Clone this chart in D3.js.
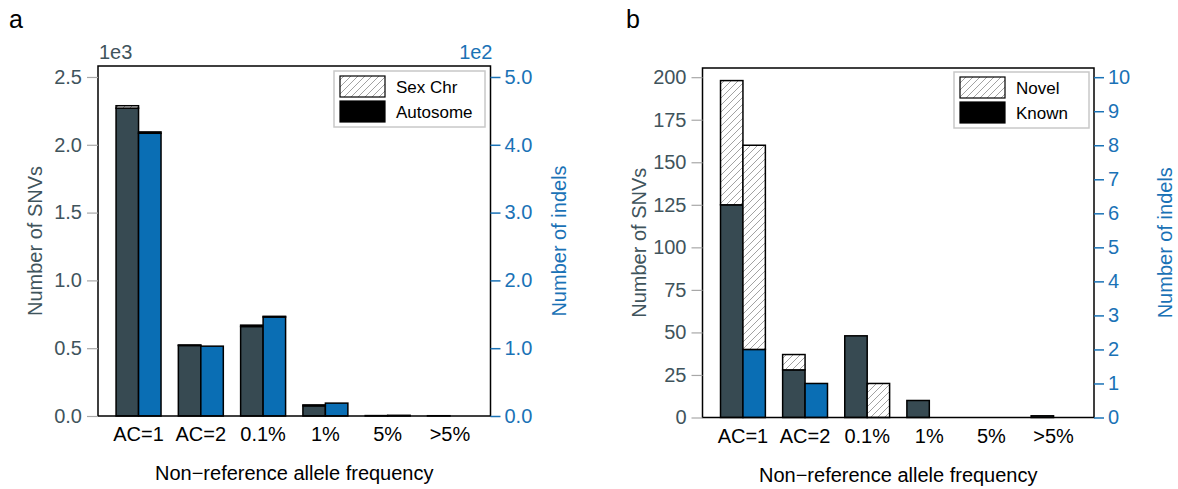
<!DOCTYPE html>
<html>
<head>
<meta charset="utf-8">
<script src="https://cdn.jsdelivr.net/npm/d3@7"></script>
<style>
  html, body { margin: 0; padding: 0; background: #fff; }
  svg { display: block; font-family: "Liberation Sans", Arial, Helvetica, sans-serif; }
</style>
</head>
<body>
<svg id="chart" width="1178" height="489"></svg>
<script>
// ---------- DATA ----------
const categories = ["AC=1", "AC=2", "0.1%", "1%", "5%", ">5%"];

// Panel a: counts
const aSnvAutosome  = [2270, 520, 660, 75, 3, 2];
const aSnvSexChr    = [18,   4,   10,  7,  0, 0];
const aIndelAutosome = [417, 103, 146, 19, 1, 0];
const aIndelSexChr   = [2,   0,   1,   0,  0, 0];

// Panel b: counts
const bSnvKnown   = [125, 28, 48, 10, 0, 1];
const bSnvNovel   = [73,  9,  0,  0,  0, 0];
const bIndelKnown = [2, 1, 0, 0, 0, 0];
const bIndelNovel = [6, 0, 1, 0, 0, 0];

const aLeftTicks  = [0, 500, 1000, 1500, 2000, 2500];
const aRightTicks = [0, 100, 200, 300, 400, 500];
const bLeftTicks  = [0, 25, 50, 75, 100, 125, 150, 175, 200];
const bRightTicks = [0, 1, 2, 3, 4, 5, 6, 7, 8, 9, 10];

const aLegend = ["Sex Chr", "Autosome"];
const bLegend = ["Novel", "Known"];

// ---------- STYLE ----------
const SNV_COLOR = "#374a52";
const INDEL_COLOR = "#0a6eb4";
const LEFT_TEXT = "#3f545c";
const RIGHT_TEXT = "#1a72b6";
const FS = "20px";

const svg = d3.select("#chart");
const defs = svg.append("defs");
const pat = defs.append("pattern")
  .attr("id", "hatch")
  .attr("patternUnits", "userSpaceOnUse")
  .attr("width", 7).attr("height", 7);
pat.append("rect").attr("width", 7).attr("height", 7).attr("fill", "#fff");
pat.append("path")
  .attr("d", "M-1,8 L8,-1 M-4,4 L4,-4 M3,11 L11,3")
  .attr("stroke", "#8a8a8a").attr("stroke-width", 0.8);

function panel(cfg) {
  const g = svg.append("g");
  const { x0, x1, y0, y1 } = cfg;

  const x = d3.scaleBand().domain(categories).range([x0, x1])
    .paddingInner(0.278).paddingOuter(0.29);
  const yL = d3.scaleLinear().domain([0, cfg.leftMax]).range([y1, y0]);
  const yR = d3.scaleLinear().domain([0, cfg.rightMax]).range([y1, y0]);
  const bw = x.bandwidth() / 2;

  const series = [
    { base: cfg.snvBase, top: cfg.snvTop, y: yL, color: SNV_COLOR, off: 0 },
    { base: cfg.indelBase, top: cfg.indelTop, y: yR, color: INDEL_COLOR, off: bw }
  ];
  series.forEach(s => {
    categories.forEach((c, i) => {
      const b = s.base[i], t = s.top[i];
      const xx = x(c) + s.off;
      if (b > 0) {
        g.append("rect")
          .attr("x", xx).attr("width", bw)
          .attr("y", s.y(b)).attr("height", s.y(0) - s.y(b))
          .attr("fill", s.color).attr("stroke", "#000").attr("stroke-width", 1.5);
      }
      if (t > 0) {
        g.append("rect")
          .attr("x", xx).attr("width", bw)
          .attr("y", s.y(b + t)).attr("height", s.y(b) - s.y(b + t))
          .attr("fill", "url(#hatch)").attr("stroke", "#000").attr("stroke-width", 1.5);
      }
    });
  });

  g.append("rect").attr("x", x0).attr("y", y0)
    .attr("width", x1 - x0).attr("height", y1 - y0)
    .attr("fill", "none").attr("stroke", "#000").attr("stroke-width", 1.5);

  const la = g.append("g").attr("transform", `translate(${x0},0)`)
    .call(d3.axisLeft(yL).tickValues(cfg.leftTicks).tickSize(11).tickPadding(5)
      .tickFormat(cfg.leftFmt));
  la.select(".domain").remove();
  la.selectAll("line").attr("stroke", "#a8a8a8").attr("stroke-width", 1.2);
  la.selectAll("text").attr("fill", LEFT_TEXT).style("font-size", FS)
    .attr("font-family", null);

  const ra = g.append("g").attr("transform", `translate(${x1},0)`)
    .call(d3.axisRight(yR).tickValues(cfg.rightTicks).tickSize(10).tickPadding(4)
      .tickFormat(cfg.rightFmt));
  ra.select(".domain").remove();
  ra.selectAll("line").attr("stroke", RIGHT_TEXT).attr("stroke-width", 1.5);
  ra.selectAll("text").attr("fill", RIGHT_TEXT).style("font-size", FS)
    .attr("font-family", null);

  const ba = g.append("g").attr("transform", `translate(0,${y1})`)
    .call(d3.axisBottom(x).tickSize(0).tickPadding(11));
  ba.select(".domain").remove();
  ba.selectAll("text").attr("fill", "#000").style("font-size", FS)
    .attr("font-family", null);

  g.append("text").attr("x", (x0 + x1) / 2).attr("y", y1 + 64)
    .attr("text-anchor", "middle").style("font-size", FS).attr("fill", "#000")
    .text("Non\u2212reference allele frequency");
  g.append("text")
    .attr("transform", `translate(${cfg.leftTitleX},${(y0 + y1) / 2}) rotate(-90)`)
    .attr("text-anchor", "middle").style("font-size", FS).attr("fill", LEFT_TEXT)
    .text("Number of SNVs");
  g.append("text")
    .attr("transform", `translate(${cfg.rightTitleX},${(y0 + y1) / 2}) rotate(-90)`)
    .attr("text-anchor", "middle").style("font-size", FS).attr("fill", RIGHT_TEXT)
    .text("Number of indels");

  if (cfg.leftExp) {
    g.append("text").attr("x", x0 + 1).attr("y", y0 - 7)
      .style("font-size", FS).attr("fill", LEFT_TEXT).text(cfg.leftExp);
    g.append("text").attr("x", x1 + 2).attr("y", y0 - 7).attr("text-anchor", "end")
      .style("font-size", FS).attr("fill", RIGHT_TEXT).text(cfg.rightExp);
  }

  g.append("text").attr("x", cfg.letterX).attr("y", 28)
    .style("font-size", "25px").attr("fill", "#000").text(cfg.letter);

  const L = cfg.legend;
  g.append("rect").attr("x", L.x).attr("y", L.y).attr("width", L.w).attr("height", 56)
    .attr("fill", "#fff").attr("stroke", "#c8c8c8").attr("stroke-width", 1.5);
  cfg.legendLabels.forEach((lab, i) => {
    g.append("rect").attr("x", L.x + 6).attr("y", L.y + 5 + i * 25)
      .attr("width", 45).attr("height", 21)
      .attr("fill", i === 0 ? "url(#hatch)" : "#000")
      .attr("stroke", "#000").attr("stroke-width", 1.2);
    g.append("text").attr("x", L.x + 62).attr("y", L.y + 22 + i * 25)
      .style("font-size", "17px").attr("fill", "#000").text(lab);
  });
}

panel({
  x0: 98, x1: 490.5, y0: 66, y1: 416,
  leftMax: 2581, rightMax: 516.2,
  snvBase: aSnvAutosome, snvTop: aSnvSexChr,
  indelBase: aIndelAutosome, indelTop: aIndelSexChr,
  leftTicks: aLeftTicks, rightTicks: aRightTicks,
  leftFmt: d => d3.format(".1f")(d / 1000),
  rightFmt: d => d3.format(".1f")(d / 100),
  leftExp: "1e3", rightExp: "1e2",
  leftTitleX: 42, rightTitleX: 566,
  letter: "a", letterX: 9,
  legend: { x: 334, y: 71, w: 151 },
  legendLabels: aLegend
});

panel({
  x0: 702.5, x1: 1094, y0: 68, y1: 417.5,
  leftMax: 205.4, rightMax: 10.27,
  snvBase: bSnvKnown, snvTop: bSnvNovel,
  indelBase: bIndelKnown, indelTop: bIndelNovel,
  leftTicks: bLeftTicks, rightTicks: bRightTicks,
  leftFmt: d => String(d),
  rightFmt: d => String(d),
  leftExp: null,
  leftTitleX: 646, rightTitleX: 1172,
  letter: "b", letterX: 626,
  legend: { x: 954, y: 72, w: 135 },
  legendLabels: bLegend
});
</script>
</body>
</html>
